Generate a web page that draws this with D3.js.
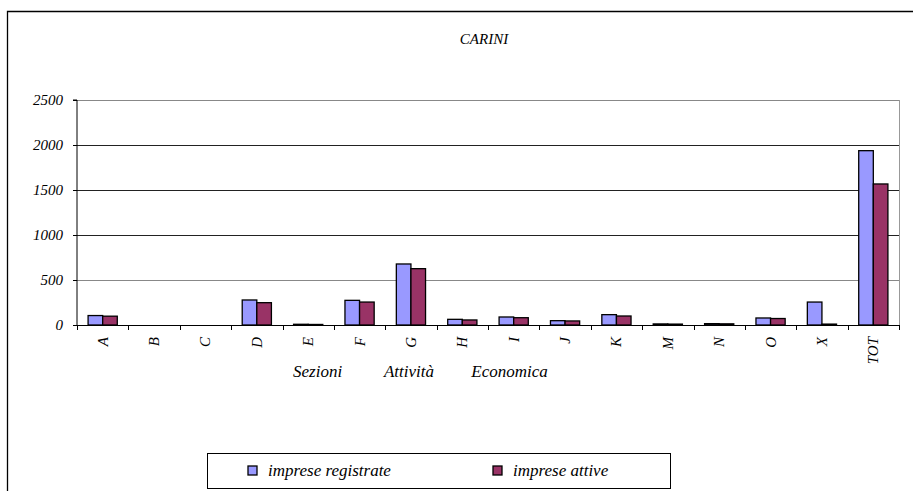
<!DOCTYPE html>
<html>
<head>
<meta charset="utf-8">
<title>CARINI</title>
<style>
  body { margin: 0; background: #fff; }
</style>
</head>
<body>
<script src="https://cdn.jsdelivr.net/npm/d3@7"></script>
<script>
// data
var sezioni = ["A","B","C","D","E","F","G","H","I","J","K","M","N","O","X","TOT"];
var registrate = [105, 0, 0, 278, 8, 274, 678, 63, 89, 48, 115, 12, 15, 78, 255, 1937];
var attive = [98, 0, 0, 248, 6, 255, 626, 56, 81, 45, 100, 10, 13, 72, 10, 1567];
var serie = ["imprese registrate", "imprese attive"];
var colori = ["#9999ff", "#993366"];
var yTicks = [0, 500, 1000, 1500, 2000, 2500];
var titoloAsse = ["Sezioni", "Attività", "Economica"];

var w = 913, h = 491;
var pLeft = 77, pRight = 899, pTop = 100, pBottom = 325;
var font = "Liberation Serif";

var svg = d3.select("body").append("svg")
  .attr("width", w)
  .attr("height", h);

// outer frame of the chart (cut at the bottom and right)
svg.append("path")
  .attr("d", "M7.5," + h + "V11.5H" + w)
  .attr("fill", "none")
  .attr("stroke", "#000")
  .attr("stroke-width", 1.3);

svg.append("text")
  .attr("x", 484)
  .attr("y", 44)
  .attr("text-anchor", "middle")
  .attr("font-size", 15)
  .text("CARINI");

var x = d3.scaleBand().domain(sezioni).range([pLeft, pRight]);
var y = d3.scaleLinear().domain([0, 2500]).range([pBottom, pTop]);

// gridlines
svg.selectAll("line.grid")
  .data(yTicks.slice(1))
  .enter()
  .append("line")
  .attr("class", "grid")
  .attr("x1", pLeft)
  .attr("x2", pRight)
  .attr("y1", function(d) { return Math.round(y(d)) + 0.5; })
  .attr("y2", function(d) { return Math.round(y(d)) + 0.5; })
  .attr("stroke", function(d) { return d == 2500 || d == 500 ? "#888" : "#222"; })
  .attr("stroke-width", 1);

// right edge of plot area
svg.append("line")
  .attr("x1", pRight + 0.5).attr("x2", pRight + 0.5)
  .attr("y1", y(2500)).attr("y2", pBottom)
  .attr("stroke", "#999");

// bars
var barW = 14.6;
[registrate, attive].forEach(function(vals, s) {
  svg.selectAll("rect.s" + s)
    .data(sezioni)
    .enter()
    .append("rect")
    .attr("class", "s" + s)
    .attr("x", function(d) { return x(d) + x.bandwidth() / 2 - barW + s * barW; })
    .attr("y", function(d, i) { return y(vals[i]); })
    .attr("width", barW)
    .attr("height", function(d, i) { return pBottom - y(vals[i]); })
    .attr("fill", colori[s])
    .attr("stroke", "#000")
    .attr("stroke-width", 1.3);
});

// y axis
var yAxis = svg.append("g")
  .attr("transform", "translate(" + pLeft + ",0)")
  .call(d3.axisLeft(y).tickValues(yTicks).tickFormat(d3.format("d")).tickSize(4).tickPadding(10));
yAxis.attr("font-size", 15);
yAxis.select(".domain").attr("stroke", "#000").attr("d", "M-4," + y(2500) + "H0V" + pBottom);
yAxis.selectAll(".tick line").attr("stroke", "#000");

// x axis
var xTickPos = sezioni.map(function(d) { return x(d); }).concat([pRight]);
svg.append("line")
  .attr("x1", pLeft).attr("x2", pRight)
  .attr("y1", pBottom + 0.5).attr("y2", pBottom + 0.5)
  .attr("stroke", "#000");
svg.selectAll("line.xtick")
  .data(xTickPos)
  .enter()
  .append("line")
  .attr("class", "xtick")
  .attr("x1", function(d) { return Math.round(d) + 0.5; })
  .attr("x2", function(d) { return Math.round(d) + 0.5; })
  .attr("y1", pBottom)
  .attr("y2", pBottom + 5)
  .attr("stroke", "#000");

svg.selectAll("text.xlab")
  .data(sezioni)
  .enter()
  .append("text")
  .attr("class", "xlab")
  .attr("transform", function(d) {
    return "translate(" + (x(d) + x.bandwidth() / 2 + 5) + "," + 337 + ") rotate(-90)";
  })
  .attr("text-anchor", "end")
  .attr("font-size", 15)
  .text(function(d) { return d; });

// axis title, words spread as in the original
var titleX = [293, 380, 467];
svg.append("text")
  .attr("y", 377)
  .attr("font-size", 17)
  .selectAll("tspan")
  .data(titoloAsse)
  .enter()
  .append("tspan")
  .attr("x", function(d, i) { return titleX[i]; })
  .text(function(d, i) { return (i ? " " : "") + d; });

// legend
svg.append("rect")
  .attr("x", 207.5).attr("y", 453.5)
  .attr("width", 463).attr("height", 35)
  .attr("fill", "#fff")
  .attr("stroke", "#000");

var legX = [248, 493];
serie.forEach(function(s, i) {
  svg.append("rect")
    .attr("x", legX[i]).attr("y", 466)
    .attr("width", 9).attr("height", 9)
    .attr("fill", colori[i])
    .attr("stroke", "#000")
    .attr("stroke-width", 1.3);
  svg.append("text")
    .attr("x", legX[i] + 20)
    .attr("y", 476)
    .attr("font-size", 17)
    .text(s);
});

// same serif italic face on every label
svg.selectAll("text")
  .attr("font-family", font)
  .attr("font-style", "italic")
  .attr("fill", "#000");
</script>
</body>
</html>
